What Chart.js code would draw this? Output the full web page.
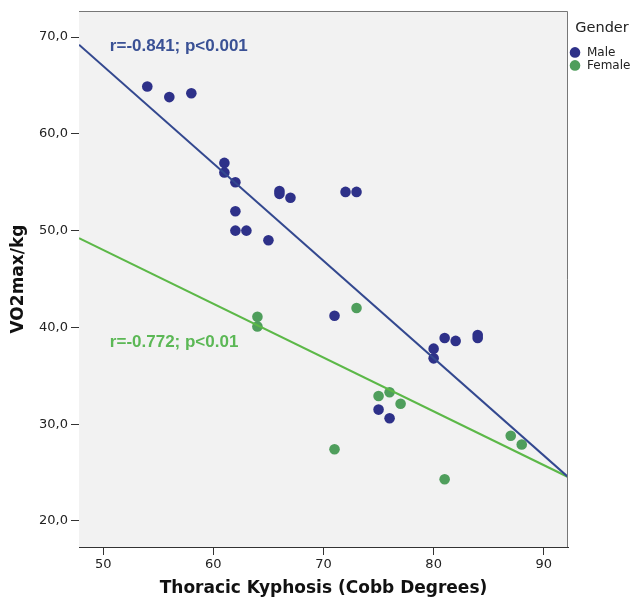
<!DOCTYPE html>
<html>
<head>
<meta charset="utf-8">
<script src="https://cdn.jsdelivr.net/npm/chart.js@4/dist/chart.umd.min.js"></script>
<style>
  html, body { margin: 0; padding: 0; background: #fff; }
</style>
</head>
<body>
<canvas id="kyphosis-chart" width="636" height="600"></canvas>
<script>
// Thoracic kyphosis (Cobb degrees) vs VO2max/kg, by gender
var maleKyphosis = [54, 56, 58, 61, 61, 62, 62, 62, 63, 65, 66, 66, 67, 71, 72, 73, 75, 76, 80, 80, 81, 82, 84, 84];
var maleVo2 = [64.9, 63.8, 64.2, 57.0, 56.0, 55.0, 52.0, 50.0, 50.0, 49.0, 54.1, 53.8, 53.4, 41.2, 54.0, 54.0, 31.5, 30.6, 37.8, 36.8, 38.9, 38.6, 39.2, 38.9];
var femaleKyphosis = [64, 64, 71, 73, 75, 76, 77, 81, 87, 88];
var femaleVo2 = [41.1, 40.1, 27.4, 42.0, 32.9, 33.3, 32.1, 24.3, 28.8, 27.9];
// fit lines: [intercept, slope]
var maleFit = [117.3, -1.006];
var femaleFit = [75.8, -0.556];
var fitText = ['r=-0.841; p<0.001', 'r=-0.772; p<0.01'];
var genders = ['Male', 'Female'];
var xTicks = [50, 60, 70, 80, 90];
var yTicks = [20, 30, 40, 50, 60, 70];
var xRange = [47.8, 92.2];
var yRange = [17.3, 72.7];

var maleColor = '#2e3189';
var femaleColor = '#4f9e5c';
var maleLine = '#33488f';
var femaleLine = '#5cb848';

function toPoints(xs, ys) {
    var pts = [];
    for (var i = 0; i < xs.length; i++) pts.push({x: xs[i], y: ys[i]});
    return pts;
}
function fitPoints(fit) {
    return [
        {x: xRange[0], y: fit[0] + fit[1] * xRange[0]},
        {x: xRange[1], y: fit[0] + fit[1] * xRange[1]}
    ];
}

// grey plot background + top/right frame
var plotFrame = {
    id: 'plotFrame',
    beforeDatasetsDraw: function(chart) {
        var a = chart.chartArea, ctx = chart.ctx;
        ctx.save();
        ctx.fillStyle = '#f2f2f2';
        ctx.fillRect(a.left, a.top, a.right - a.left, a.bottom - a.top);
        ctx.restore();
    },
    afterDraw: function(chart) {
        var a = chart.chartArea, ctx = chart.ctx;
        ctx.save();
        ctx.strokeStyle = '#777';
        ctx.lineWidth = 1;
        ctx.beginPath();
        ctx.moveTo(a.left, a.top + 0.5);
        ctx.lineTo(a.right - 0.5, a.top + 0.5);
        ctx.lineTo(a.right - 0.5, a.bottom);
        ctx.stroke();
        ctx.restore();
    }
};

// r / p labels next to each fit line
var fitLabels = {
    id: 'fitLabels',
    afterDatasetsDraw: function(chart) {
        var xs = chart.scales.x, ys = chart.scales.y, ctx = chart.ctx;
        var spots = [[50.6, 69.0, '#3a5195'], [50.6, 38.5, '#5cb856']];
        ctx.save();
        ctx.font = 'bold 17px "Liberation Sans", Arial, sans-serif';
        ctx.textBaseline = 'middle';
        ctx.textAlign = 'left';
        for (var i = 0; i < spots.length; i++) {
            ctx.fillStyle = spots[i][2];
            ctx.fillText(fitText[i], xs.getPixelForValue(spots[i][0]), ys.getPixelForValue(spots[i][1]));
        }
        ctx.restore();
    }
};

var tickFont = {family: '"DejaVu Sans", Verdana, sans-serif', size: 13};
var titleFont = {family: '"DejaVu Sans", Verdana, sans-serif', size: 17, weight: 'bold'};

var chart = new Chart(document.getElementById('kyphosis-chart'), {
    type: 'scatter',
    data: {
        datasets: [
            {
                label: genders[0],
                data: toPoints(maleKyphosis, maleVo2),
                backgroundColor: maleColor,
                borderColor: maleColor,
                borderWidth: 0,
                pointRadius: 5.3,
                pointStyle: 'circle',
                order: 2
            },
            {
                label: genders[1],
                data: toPoints(femaleKyphosis, femaleVo2),
                backgroundColor: femaleColor,
                borderColor: femaleColor,
                borderWidth: 0,
                pointRadius: 5.3,
                pointStyle: 'circle',
                order: 2
            },
            {
                type: 'line',
                label: 'fit-male',
                data: fitPoints(maleFit),
                borderColor: maleLine,
                borderWidth: 2,
                pointRadius: 0,
                fill: false,
                order: 1
            },
            {
                type: 'line',
                label: 'fit-female',
                data: fitPoints(femaleFit),
                borderColor: femaleLine,
                borderWidth: 2,
                pointRadius: 0,
                fill: false,
                order: 1
            }
        ]
    },
    options: {
        responsive: false,
        animation: false,
        layout: { padding: { left: 0, right: 0, top: 11, bottom: 0 } },
        plugins: {
            tooltip: { enabled: false },
            legend: {
                position: 'right',
                align: 'start',
                maxWidth: 68,
                title: {
                    display: true,
                    text: 'Gender',
                    color: '#222',
                    font: {family: '"DejaVu Sans", Verdana, sans-serif', size: 14.5},
                    padding: {top: 10, bottom: 7}
                },
                labels: {
                    usePointStyle: true,
                    pointStyle: 'circle',
                    boxWidth: 14,
                    boxHeight: 7.5,
                    padding: 1,
                    color: '#222',
                    font: {family: '"DejaVu Sans", Verdana, sans-serif', size: 12},
                    filter: function(item) { return item.text.indexOf('fit') !== 0; }
                }
            }
        },
        scales: {
            x: {
                type: 'linear',
                min: xRange[0],
                max: xRange[1],
                afterBuildTicks: function(scale) {
                    scale.ticks = xTicks.map(function(v) { return {value: v}; });
                },
                afterFit: function(scale) { scale.height = 53; },
                grid: { drawOnChartArea: false, tickLength: 8, color: '#333' },
                border: { display: true, color: '#333', width: 1 },
                ticks: { font: tickFont, color: '#222', padding: 2 },
                title: {
                    display: true,
                    text: 'Thoracic Kyphosis (Cobb Degrees)',
                    font: titleFont,
                    color: '#111',
                    padding: {top: 4, bottom: 1}
                }
            },
            y: {
                type: 'linear',
                min: yRange[0],
                max: yRange[1],
                afterBuildTicks: function(scale) {
                    scale.ticks = yTicks.map(function(v) { return {value: v}; });
                },
                afterFit: function(scale) { scale.width = 79; },
                grid: { drawOnChartArea: false, tickLength: 8, color: '#333' },
                border: { display: true, color: '#333', width: 1 },
                ticks: {
                    font: tickFont,
                    color: '#222',
                    padding: 3,
                    callback: function(v) { return v.toFixed(1).replace('.', ','); }
                },
                title: {
                    display: true,
                    text: 'VO2max/kg',
                    font: titleFont,
                    color: '#111',
                    padding: {top: 8, bottom: 4}
                }
            }
        }
    },
    plugins: [plotFrame, fitLabels]
});
</script>
</body>
</html>
